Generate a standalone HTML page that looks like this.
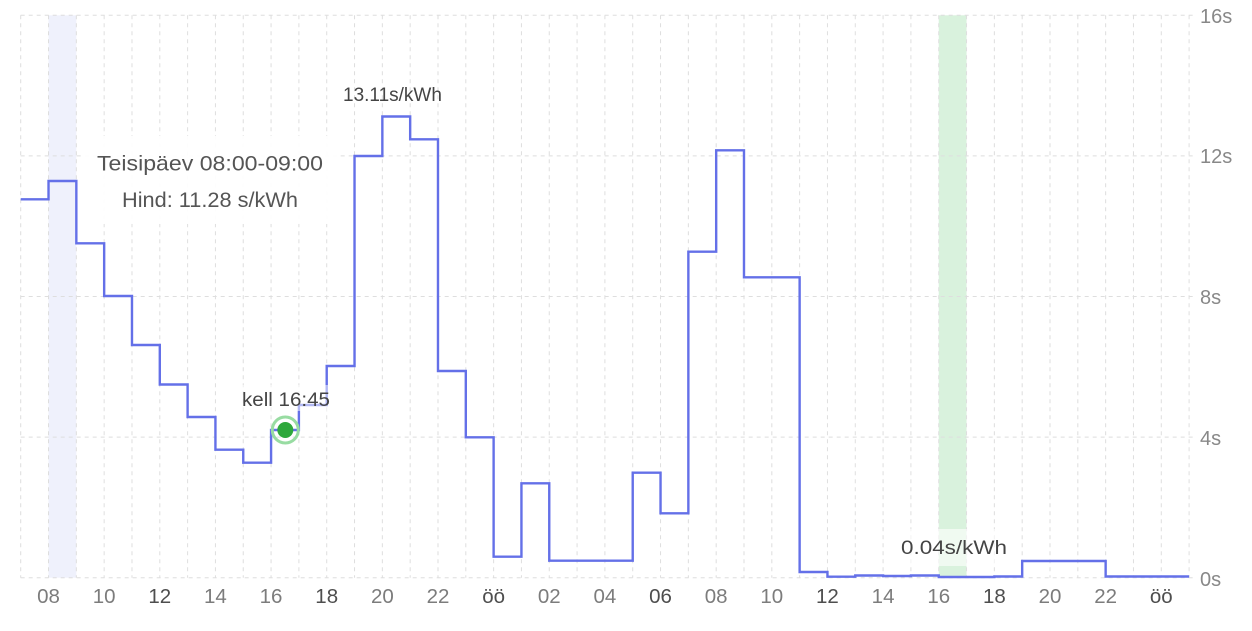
<!DOCTYPE html>
<html>
<head>
<meta charset="utf-8">
<style>
html,body{margin:0;padding:0;background:#fff;}
svg{display:block;}
text{font-family:"Liberation Sans", sans-serif;}
</style>
</head>
<body>
<svg width="1252" height="631" viewBox="0 0 1252 631" xmlns="http://www.w3.org/2000/svg">
  <rect x="48.52" y="15.3" width="27.82" height="562.4" fill="#eff1fc"/>
  <rect x="938.73" y="15.3" width="27.82" height="562.4" fill="#d9f2dd"/>

  <g stroke="#dedede" stroke-width="1" stroke-dasharray="4 4" fill="none">
    <line x1="20.7" y1="15.3" x2="1195" y2="15.3"/>
    <line x1="20.7" y1="155.9" x2="1195" y2="155.9"/>
    <line x1="20.7" y1="296.5" x2="1195" y2="296.5"/>
    <line x1="20.7" y1="437.1" x2="1195" y2="437.1"/>
    <line x1="20.7" y1="577.7" x2="1195" y2="577.7"/>
    <line x1="20.70" y1="15.3" x2="20.70" y2="577.7"/>
    <line x1="48.52" y1="15.3" x2="48.52" y2="577.7"/>
    <line x1="76.34" y1="15.3" x2="76.34" y2="577.7"/>
    <line x1="104.16" y1="15.3" x2="104.16" y2="577.7"/>
    <line x1="131.98" y1="15.3" x2="131.98" y2="577.7"/>
    <line x1="159.80" y1="15.3" x2="159.80" y2="577.7"/>
    <line x1="187.61" y1="15.3" x2="187.61" y2="577.7"/>
    <line x1="215.43" y1="15.3" x2="215.43" y2="577.7"/>
    <line x1="243.25" y1="15.3" x2="243.25" y2="577.7"/>
    <line x1="271.07" y1="15.3" x2="271.07" y2="577.7"/>
    <line x1="298.89" y1="15.3" x2="298.89" y2="577.7"/>
    <line x1="326.71" y1="15.3" x2="326.71" y2="577.7"/>
    <line x1="354.53" y1="15.3" x2="354.53" y2="577.7"/>
    <line x1="382.35" y1="15.3" x2="382.35" y2="577.7"/>
    <line x1="410.17" y1="15.3" x2="410.17" y2="577.7"/>
    <line x1="437.99" y1="15.3" x2="437.99" y2="577.7"/>
    <line x1="465.80" y1="15.3" x2="465.80" y2="577.7"/>
    <line x1="493.62" y1="15.3" x2="493.62" y2="577.7"/>
    <line x1="521.44" y1="15.3" x2="521.44" y2="577.7"/>
    <line x1="549.26" y1="15.3" x2="549.26" y2="577.7"/>
    <line x1="577.08" y1="15.3" x2="577.08" y2="577.7"/>
    <line x1="604.90" y1="15.3" x2="604.90" y2="577.7"/>
    <line x1="632.72" y1="15.3" x2="632.72" y2="577.7"/>
    <line x1="660.54" y1="15.3" x2="660.54" y2="577.7"/>
    <line x1="688.36" y1="15.3" x2="688.36" y2="577.7"/>
    <line x1="716.18" y1="15.3" x2="716.18" y2="577.7"/>
    <line x1="743.99" y1="15.3" x2="743.99" y2="577.7"/>
    <line x1="771.81" y1="15.3" x2="771.81" y2="577.7"/>
    <line x1="799.63" y1="15.3" x2="799.63" y2="577.7"/>
    <line x1="827.45" y1="15.3" x2="827.45" y2="577.7"/>
    <line x1="855.27" y1="15.3" x2="855.27" y2="577.7"/>
    <line x1="883.09" y1="15.3" x2="883.09" y2="577.7"/>
    <line x1="910.91" y1="15.3" x2="910.91" y2="577.7"/>
    <line x1="938.73" y1="15.3" x2="938.73" y2="577.7"/>
    <line x1="966.55" y1="15.3" x2="966.55" y2="577.7"/>
    <line x1="994.37" y1="15.3" x2="994.37" y2="577.7"/>
    <line x1="1022.18" y1="15.3" x2="1022.18" y2="577.7"/>
    <line x1="1050.00" y1="15.3" x2="1050.00" y2="577.7"/>
    <line x1="1077.82" y1="15.3" x2="1077.82" y2="577.7"/>
    <line x1="1105.64" y1="15.3" x2="1105.64" y2="577.7"/>
    <line x1="1133.46" y1="15.3" x2="1133.46" y2="577.7"/>
    <line x1="1161.28" y1="15.3" x2="1161.28" y2="577.7"/>
    <line x1="1189.10" y1="15.3" x2="1189.10" y2="577.7"/>
  </g>

  <path d="M20.7,199.3 H48.52 V181 H76.34 V243.3 H104.16 V296 H131.98 V345 H159.8 V384.5 H187.61 V417 H215.43 V449.7 H243.25 V462.7 H271.07 V430 H298.89 V405 H326.71 V366 H354.53 V156 H382.35 V116.5 H410.17 V139.3 H437.99 V371 H465.8 V437.3 H493.62 V556.7 H521.44 V483.3 H549.26 V560.7 H632.72 V472.7 H660.54 V513.3 H688.36 V251.7 H716.18 V150.3 H743.99 V277.3 H799.63 V572 H827.45 V576.7 H855.27 V575.5 H883.09 V576 H910.91 V575.5 H938.73 V577 H994.37 V576.5 H1022.18 V561 H1105.64 V576.5 H1189.1" fill="none" stroke="#6470e8" stroke-width="2.4"/>

  <rect x="82" y="136" width="258" height="88" fill="#ffffff" fill-opacity="0.92"/>
  <rect x="236" y="385" width="100" height="26" fill="#ffffff" fill-opacity="0.5"/>
  <rect x="895" y="529" width="118" height="37" fill="#ffffff" fill-opacity="0.6"/>

  <g fill="#444" font-size="19">
    <text x="343" y="101">13.11s/kWh</text>
    <text x="242" y="406" textLength="88" lengthAdjust="spacingAndGlyphs">kell 16:45</text>
    <text x="901" y="554" textLength="106" lengthAdjust="spacingAndGlyphs">0.04s/kWh</text>
  </g>
  <g fill="#555" font-size="21">
    <text x="97" y="170.5" textLength="226" lengthAdjust="spacingAndGlyphs">Teisipäev 08:00-09:00</text>
    <text x="122" y="207" textLength="176" lengthAdjust="spacingAndGlyphs">Hind: 11.28 s/kWh</text>
  </g>

  <circle cx="285.3" cy="430" r="13" fill="none" stroke="#98dca2" stroke-width="3"/>
  <circle cx="285.3" cy="430" r="8" fill="#2ea83c"/>

  <g fill="#888" font-size="20">
    <text x="1200" y="23">16s</text>
    <text x="1200" y="163">12s</text>
    <text x="1200" y="304">8s</text>
    <text x="1200" y="445">4s</text>
    <text x="1200" y="586">0s</text>
  </g>

  <g font-size="20.5" text-anchor="middle">
    <text x="48.52" y="603" fill="#7c7c7c">08</text>
    <text x="104.16" y="603" fill="#7c7c7c">10</text>
    <text x="159.80" y="603" fill="#4e4e4e">12</text>
    <text x="215.43" y="603" fill="#7c7c7c">14</text>
    <text x="271.07" y="603" fill="#7c7c7c">16</text>
    <text x="326.71" y="603" fill="#4e4e4e">18</text>
    <text x="382.35" y="603" fill="#7c7c7c">20</text>
    <text x="437.99" y="603" fill="#7c7c7c">22</text>
    <text x="493.62" y="603" fill="#4e4e4e">öö</text>
    <text x="549.26" y="603" fill="#7c7c7c">02</text>
    <text x="604.90" y="603" fill="#7c7c7c">04</text>
    <text x="660.54" y="603" fill="#4e4e4e">06</text>
    <text x="716.18" y="603" fill="#7c7c7c">08</text>
    <text x="771.81" y="603" fill="#7c7c7c">10</text>
    <text x="827.45" y="603" fill="#4e4e4e">12</text>
    <text x="883.09" y="603" fill="#7c7c7c">14</text>
    <text x="938.73" y="603" fill="#7c7c7c">16</text>
    <text x="994.37" y="603" fill="#4e4e4e">18</text>
    <text x="1050.00" y="603" fill="#7c7c7c">20</text>
    <text x="1105.64" y="603" fill="#7c7c7c">22</text>
    <text x="1161.28" y="603" fill="#4e4e4e">öö</text>
  </g>
</svg>
</body>
</html>
